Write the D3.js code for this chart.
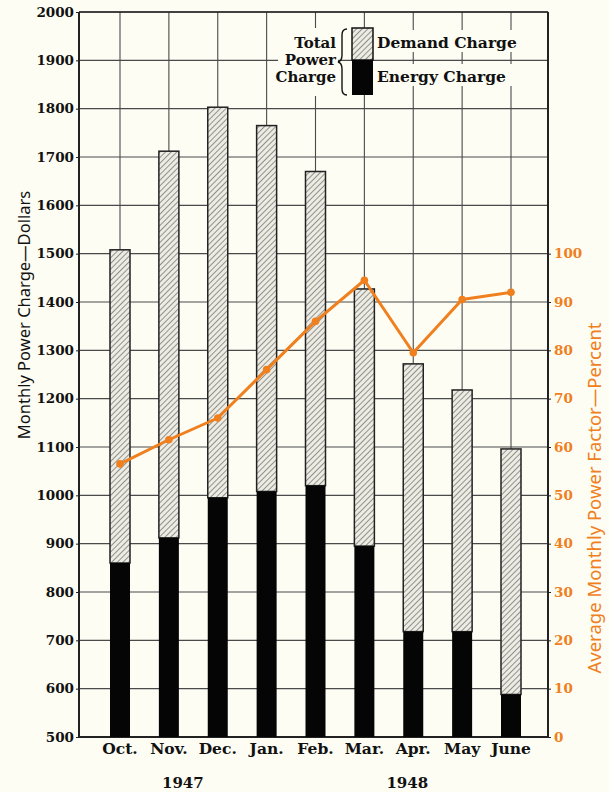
<!DOCTYPE html>
<html>
<head>
<meta charset="utf-8">
<script src="https://cdn.jsdelivr.net/npm/d3@7"></script>
<style>
  body { margin: 0; background: #fdfdf4; }
  svg { display: block; }
  .serif { font-family: "DejaVu Serif", serif; font-weight: bold; }
</style>
</head>
<body>
<svg id="chart" width="609" height="792"></svg>
<script>
const months = ["Oct.","Nov.","Dec.","Jan.","Feb.","Mar.","Apr.","May","June"];
const totalCharge = [1508, 1712, 1803, 1765, 1670, 1427, 1272, 1218, 1096];
const energyCharge = [860, 912, 995, 1008, 1020, 895, 718, 718, 588];
const powerFactor = [56.5, 61.5, 66, 76, 86, 94.5, 79.5, 90.5, 92];
const dollarTicks = d3.range(500, 2001, 100);
const percentTicks = d3.range(0, 101, 10);
const years = ["1947", "1948"];
const yearAnchor = ["Nov.", "Apr."];

const svg = d3.select("#chart");
const cream = "#fdfdf4", orange = "#f07f1e", grid = "#4a4a4a";

const L = 79, R = 548, T = 12, B = 737;

const x = d3.scalePoint().domain(months).range([120, 511]);
const y = d3.scaleLinear().domain([500, 2000]).range([B, T]);
const y2 = d3.scaleLinear().domain([0, 100]).range([B, y(1500)]);

// hatch pattern
const pat = svg.append("defs").append("pattern")
  .attr("id", "hatch").attr("patternUnits", "userSpaceOnUse")
  .attr("width", 4).attr("height", 4)
  .attr("patternTransform", "rotate(45)");
pat.append("rect").attr("width", 4).attr("height", 4).attr("fill", "#ecece4");
pat.append("line").attr("x1", 0).attr("y1", 0).attr("x2", 0).attr("y2", 4)
  .attr("stroke", "#7a7a74").attr("stroke-width", 1.6);

// grid
svg.append("g").selectAll("line").data(dollarTicks).join("line")
  .attr("x1", L).attr("x2", R).attr("y1", d => y(d)).attr("y2", d => y(d))
  .attr("stroke", grid).attr("stroke-width", 1.1);
svg.append("g").selectAll("line").data(months).join("line")
  .attr("x1", d => x(d)).attr("x2", d => x(d)).attr("y1", T).attr("y2", B)
  .attr("stroke", grid).attr("stroke-width", 1.1);

// left axis
const ax = svg.append("g").attr("transform", `translate(${L},0)`)
  .call(d3.axisLeft(y).tickValues(dollarTicks).tickSize(3).tickPadding(2).tickFormat(d3.format("d")));
ax.select(".domain").remove();
ax.selectAll("text").attr("class", "serif").style("font-size", "13.5px").attr("fill", "#111");
ax.selectAll("line").attr("stroke", "#222");

// right axis
const ax2 = svg.append("g").attr("transform", `translate(${R},0)`)
  .call(d3.axisRight(y2).tickValues(percentTicks).tickSize(3).tickPadding(3));
ax2.select(".domain").remove();
ax2.selectAll("text").attr("class", "serif").style("font-size", "13.5px").attr("fill", orange);
ax2.selectAll("line").attr("stroke", "#222");

// frame
svg.append("line").attr("x1", L).attr("x2", L).attr("y1", T).attr("y2", B).attr("stroke", "#222").attr("stroke-width", 2);
svg.append("line").attr("x1", R).attr("x2", R).attr("y1", T).attr("y2", B).attr("stroke", "#222").attr("stroke-width", 2);
svg.append("line").attr("x1", L).attr("x2", R).attr("y1", B).attr("y2", B).attr("stroke", "#222").attr("stroke-width", 2);
svg.append("line").attr("x1", L).attr("x2", R).attr("y1", T).attr("y2", T).attr("stroke", "#222").attr("stroke-width", 1.5);

// bars
const bw = 20;
const bars = svg.append("g");
bars.selectAll("rect.demand").data(months).join("rect")
  .attr("x", d => x(d) - bw / 2).attr("width", bw)
  .attr("y", (d, i) => y(totalCharge[i]))
  .attr("height", (d, i) => y(energyCharge[i]) - y(totalCharge[i]))
  .attr("fill", "url(#hatch)").attr("stroke", "#222").attr("stroke-width", 1.5);
bars.selectAll("rect.energy").data(months).join("rect")
  .attr("x", d => x(d) - bw / 2).attr("width", bw)
  .attr("y", (d, i) => y(energyCharge[i]))
  .attr("height", (d, i) => y(500) - y(energyCharge[i]))
  .attr("fill", "#050505");

// power factor line
const line = d3.line().x((d, i) => x(months[i])).y(d => y2(d));
svg.append("path").datum(powerFactor).attr("d", line)
  .attr("fill", "none").attr("stroke", orange).attr("stroke-width", 3)
  .attr("stroke-linejoin", "round");
svg.append("g").selectAll("circle").data(powerFactor).join("circle")
  .attr("cx", (d, i) => x(months[i])).attr("cy", d => y2(d)).attr("r", 3.8)
  .attr("fill", orange);

// month labels
svg.append("g").selectAll("text").data(months).join("text")
  .attr("class", "serif").attr("x", d => x(d)).attr("y", 754)
  .attr("text-anchor", "middle").style("font-size", "15.5px").attr("fill", "#111")
  .text(d => d);
svg.append("g").selectAll("text").data(years).join("text")
  .attr("class", "serif").attr("x", (d, i) => x(yearAnchor[i]) + (i ? -6 : 14)).attr("y", 788)
  .attr("text-anchor", "middle").style("font-size", "15px").attr("fill", "#111")
  .text(d => d);

// axis titles
svg.append("text").attr("transform", "translate(30,315) rotate(-90)")
  .attr("text-anchor", "middle").style("font-family", "Noto Sans, sans-serif")
  .style("font-size", "16.5px").attr("fill", "#111")
  .text("Monthly Power Charge\u2014Dollars");
svg.append("text").attr("transform", "translate(601,498) rotate(-90)")
  .attr("text-anchor", "middle").style("font-family", "Noto Sans, sans-serif")
  .style("font-size", "18.5px").attr("fill", orange)
  .text("Average Monthly Power Factor\u2014Percent");

// legend
const lg = svg.append("g");
lg.append("rect").attr("x", 278).attr("y", 28).attr("width", 60).attr("height", 68).attr("fill", cream);
lg.append("rect").attr("x", 376).attr("y", 30).attr("width", 146).attr("height", 22).attr("fill", cream);
lg.append("rect").attr("x", 376).attr("y", 64).attr("width", 136).attr("height", 22).attr("fill", cream);
["Total", "Power", "Charge"].forEach((t, i) => {
  lg.append("text").attr("class", "serif").attr("x", 336).attr("y", 48 + i * 17)
    .attr("text-anchor", "end").style("font-size", "15px").attr("fill", "#111").text(t);
});
lg.append("path")
  .attr("d", "M347,29 Q342,29 342,35 L342,55 Q342,61 338,62 Q342,63 342,69 L342,89 Q342,95 347,95")
  .attr("fill", "none").attr("stroke", "#111").attr("stroke-width", 1.4);
lg.append("rect").attr("x", 352).attr("y", 28).attr("width", 21).attr("height", 32)
  .attr("fill", "url(#hatch)").attr("stroke", "#111").attr("stroke-width", 1.5);
lg.append("rect").attr("x", 352).attr("y", 60).attr("width", 21).attr("height", 35).attr("fill", "#050505");
lg.append("text").attr("class", "serif").attr("x", 377).attr("y", 48)
  .style("font-size", "15.5px").attr("fill", "#111").text("Demand Charge");
lg.append("text").attr("class", "serif").attr("x", 377).attr("y", 82)
  .style("font-size", "15.5px").attr("fill", "#111").text("Energy Charge");
</script>
</body>
</html>
